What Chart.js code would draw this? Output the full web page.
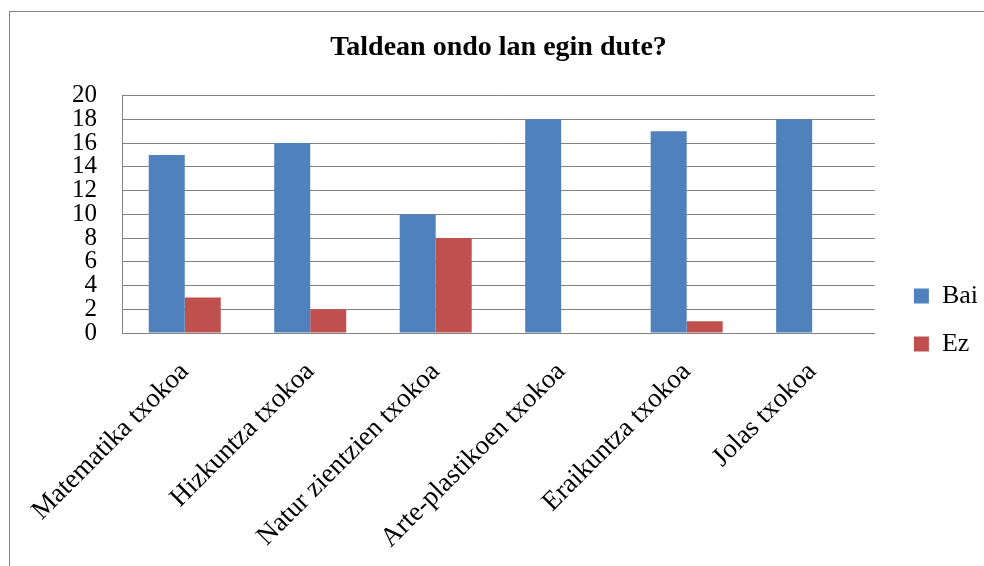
<!DOCTYPE html>
<html>
<head>
<meta charset="utf-8">
<script src="https://cdn.jsdelivr.net/npm/chart.js@4.4.1/dist/chart.umd.min.js"></script>
<style>
  html, body { margin: 0; padding: 0; background: #fff; overflow: hidden; }
  #chart { display: block; }
</style>
</head>
<body>
<canvas id="chart" width="984" height="640"></canvas>
<script>
// Chart data
const categories = ['Matematika txokoa', 'Hizkuntza txokoa', 'Natur zientzien txokoa',
    'Arte-plastikoen txokoa', 'Eraikuntza txokoa', 'Jolas txokoa'];
const baiValues = [15, 16, 10, 18, 17, 18];
const ezValues = [3, 2, 8, 0, 1, 0];
const yTicks = [0, 2, 4, 6, 8, 10, 12, 14, 16, 18, 20];

const serif = 'Liberation Serif';
const gridGray = '#828282';

// white page + outer frame, and push the legend a little right like the original
const framePlugin = {
    id: 'frame',
    beforeDraw(chart) {
        const ctx = chart.ctx;
        ctx.save();
        ctx.fillStyle = '#fff';
        ctx.fillRect(0, 0, chart.width, chart.height);
        ctx.strokeStyle = gridGray;
        ctx.lineWidth = 1;
        ctx.strokeRect(9.5, 11.5, chart.width + 20, chart.height + 20);
        ctx.restore();
    },
    afterLayout(chart) {
        chart.legend.left += 17;
        chart.legend.right += 17;
    }
};

document.addEventListener('DOMContentLoaded', () => {
    const ctx = document.getElementById('chart').getContext('2d');

    new Chart(ctx, {
        type: 'bar',
        data: {
            labels: categories,
            datasets: [
                { label: 'Bai', data: baiValues, backgroundColor: '#4F81BD', borderWidth: 0 },
                { label: 'Ez', data: ezValues, backgroundColor: '#C0504D', borderWidth: 0 }
            ]
        },
        options: {
            responsive: false,
            animation: false,
            devicePixelRatio: 1,
            categoryPercentage: 0.574,
            barPercentage: 1.0,
            layout: { padding: { left: 26, right: 13, top: 0, bottom: 0 } },
            plugins: {
                title: {
                    display: true,
                    text: 'Taldean ondo lan egin dute?',
                    color: '#000',
                    font: { family: serif, size: 28, weight: 'bold' },
                    padding: { top: 31, bottom: 31 }
                },
                legend: {
                    position: 'right',
                    labels: {
                        color: '#000',
                        font: { family: serif, size: 26 },
                        boxWidth: 15,
                        boxHeight: 15,
                        padding: 22
                    }
                },
                tooltip: { enabled: false }
            },
            scales: {
                x: {
                    grid: { display: false, drawTicks: false },
                    border: { display: true, color: gridGray },
                    ticks: {
                        color: '#000',
                        font: { family: serif, size: 27 },
                        minRotation: 45,
                        maxRotation: 45,
                        autoSkip: false,
                        padding: 23
                    },
                    afterFit(scale) { scale.height = 307; }
                },
                y: {
                    min: 0,
                    max: 20,
                    afterBuildTicks(scale) { scale.ticks = yTicks.map(v => ({ value: v })); },
                    grid: { color: gridGray, drawTicks: false },
                    border: { display: true, color: gridGray },
                    ticks: {
                        color: '#000',
                        font: { family: serif, size: 25, lineHeight: 0.9 },
                        autoSkip: false,
                        padding: 25
                    },
                    afterFit(scale) { scale.width = 96; }
                }
            }
        },
        plugins: [framePlugin]
    });
});
</script>
</body>
</html>
